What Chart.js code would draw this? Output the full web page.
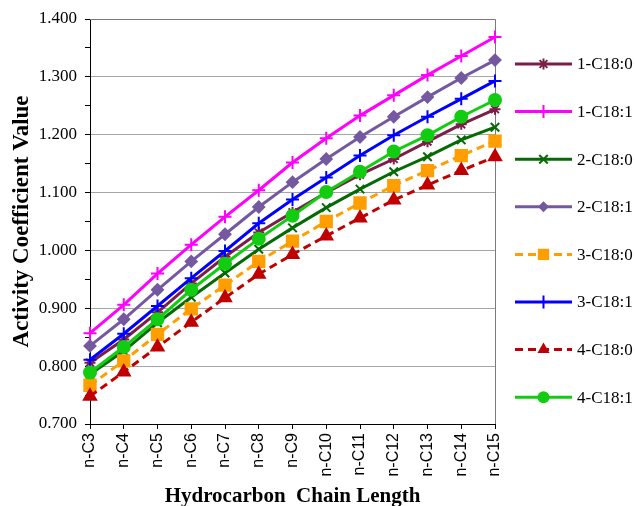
<!DOCTYPE html>
<html>
<head>
<meta charset="utf-8">
<script src="https://cdn.jsdelivr.net/npm/chart.js@4.4.1/dist/chart.umd.min.js"></script>
<style>
  html, body { margin: 0; padding: 0; background: #fff; }
  #wrap { width: 635px; height: 506px; }
</style>
</head>
<body>
<div id="wrap"><canvas id="grafico" width="635" height="506"></canvas></div>
<script>
const categorias = ['n-C3', 'n-C4', 'n-C5', 'n-C6', 'n-C7', 'n-C8', 'n-C9', 'n-C10', 'n-C11', 'n-C12', 'n-C13', 'n-C14', 'n-C15'];

const serie1C180 = [0.806, 0.846, 0.893, 0.943, 0.989, 1.031, 1.066, 1.100, 1.131, 1.158, 1.188, 1.218, 1.244];
const serie1C181 = [0.857, 0.906, 0.960, 1.010, 1.058, 1.104, 1.152, 1.194, 1.233, 1.268, 1.303, 1.336, 1.369];
const serie2C180 = [0.786, 0.826, 0.875, 0.919, 0.961, 1.002, 1.039, 1.074, 1.106, 1.136, 1.162, 1.191, 1.213];
const serie2C181 = [0.835, 0.881, 0.932, 0.981, 1.028, 1.075, 1.118, 1.158, 1.196, 1.231, 1.265, 1.298, 1.329];
const serie3C180 = [0.767, 0.809, 0.855, 0.899, 0.940, 0.981, 1.016, 1.050, 1.082, 1.112, 1.138, 1.164, 1.189];
const serie3C181 = [0.811, 0.856, 0.904, 0.952, 0.999, 1.047, 1.088, 1.126, 1.164, 1.199, 1.231, 1.262, 1.293];
const serie4C180 = [0.748, 0.790, 0.833, 0.876, 0.918, 0.959, 0.993, 1.025, 1.056, 1.087, 1.113, 1.138, 1.162];
const serie4C181 = [0.789, 0.833, 0.881, 0.932, 0.977, 1.020, 1.060, 1.101, 1.136, 1.171, 1.199, 1.231, 1.260];

const nomesSeries = ['1-C18:0', '1-C18:1', '2-C18:0', '2-C18:1', '3-C18:0', '3-C18:1', '4-C18:0', '4-C18:1'];
const yMin = 0.7;
const yMax = 1.4;
const yPasso = 0.05;

// estilo de cada serie: cor, marcador, tamanho, tracejado
const estilos = [
    { cor: '#7B1E48', ponto: 'star', raio: 5.5, traco: [] },
    { cor: '#FF00FF', ponto: 'cross', raio: 6.5, traco: [] },
    { cor: '#046A04', ponto: 'crossRot', raio: 6, traco: [] },
    { cor: '#7559A0', ponto: 'rectRot', raio: 5.5, traco: [] },
    { cor: '#FF9E00', ponto: 'rect', raio: 8, traco: [8, 5] },
    { cor: '#0000FF', ponto: 'cross', raio: 6.5, traco: [] },
    { cor: '#C00000', ponto: 'triangle', raio: 7, traco: [8, 5] },
    { cor: '#12CC12', ponto: 'circle', raio: 6, traco: [] }
];

const valores = [serie1C180, serie1C181, serie2C180, serie2C181, serie3C180, serie3C181, serie4C180, serie4C181];

const datasets = valores.map((v, i) => ({
    label: nomesSeries[i],
    data: v,
    borderColor: estilos[i].cor,
    backgroundColor: estilos[i].cor,
    borderWidth: 3,
    borderDash: estilos[i].traco,
    pointStyle: estilos[i].ponto,
    pointRadius: estilos[i].raio,
    pointBorderWidth: 2,
    pointBorderColor: estilos[i].cor,
    pointBackgroundColor: estilos[i].cor,
    tension: 0,
    fill: false,
    order: valores.length - i
}));

function desenharMarcador(ctx, tipo, x, y, r, cor) {
    ctx.save();
    ctx.strokeStyle = cor;
    ctx.fillStyle = cor;
    ctx.lineWidth = 2;
    ctx.setLineDash([]);
    ctx.beginPath();
    if (tipo === 'circle') {
        ctx.arc(x, y, r, 0, Math.PI * 2);
        ctx.fill();
    } else if (tipo === 'rect') {
        const s = r * Math.SQRT1_2;
        ctx.rect(x - s, y - s, 2 * s, 2 * s);
        ctx.fill();
    } else if (tipo === 'rectRot') {
        ctx.moveTo(x, y - r);
        ctx.lineTo(x + r, y);
        ctx.lineTo(x, y + r);
        ctx.lineTo(x - r, y);
        ctx.closePath();
        ctx.fill();
    } else if (tipo === 'triangle') {
        ctx.moveTo(x, y - r);
        ctx.lineTo(x + r * 0.866, y + r * 0.5);
        ctx.lineTo(x - r * 0.866, y + r * 0.5);
        ctx.closePath();
        ctx.fill();
    } else {
        const d = r * Math.SQRT1_2;
        if (tipo === 'cross' || tipo === 'star') {
            ctx.moveTo(x, y - r); ctx.lineTo(x, y + r);
            ctx.moveTo(x - r, y); ctx.lineTo(x + r, y);
        }
        if (tipo === 'crossRot' || tipo === 'star') {
            ctx.moveTo(x - d, y - d); ctx.lineTo(x + d, y + d);
            ctx.moveTo(x + d, y - d); ctx.lineTo(x - d, y + d);
        }
        ctx.stroke();
    }
    ctx.restore();
}

const bordaPlot = {
    id: 'bordaPlot',
    beforeDatasetsDraw(chart) {
        const { ctx, chartArea } = chart;
        ctx.save();
        ctx.strokeStyle = '#7a7a7a';
        ctx.lineWidth = 1;
        ctx.beginPath();
        ctx.moveTo(chartArea.left, chartArea.top + 0.5);
        ctx.lineTo(chartArea.right + 0.5, chartArea.top + 0.5);
        ctx.lineTo(chartArea.right + 0.5, chartArea.bottom);
        ctx.stroke();
        ctx.restore();
    }
};

const legendaLateral = {
    id: 'legendaLateral',
    afterDraw(chart) {
        const ctx = chart.ctx;
        const x0 = 515, x1 = 572;
        chart.data.datasets.forEach((ds, i) => {
            const y = 64 + i * 47.6;
            const est = estilos[i];
            ctx.save();
            ctx.strokeStyle = est.cor;
            ctx.lineWidth = 3;
            ctx.setLineDash(est.traco);
            ctx.beginPath();
            ctx.moveTo(x0, y);
            ctx.lineTo(x1, y);
            ctx.stroke();
            ctx.restore();
            desenharMarcador(ctx, est.ponto, (x0 + x1) / 2, y, est.raio, est.cor);
            ctx.save();
            ctx.fillStyle = '#000';
            ctx.font = '17px "Liberation Serif"';
            ctx.textBaseline = 'middle';
            ctx.fillText(ds.label, 577, y + 1);
            ctx.restore();
        });
    }
};

new Chart(document.getElementById('grafico'), {
    type: 'line',
    data: { labels: categorias, datasets: datasets },
    options: {
        responsive: false,
        animation: false,
        layout: { padding: { top: 19, right: 140, left: 0, bottom: 0 } },
        plugins: {
            legend: { display: false },
            tooltip: { enabled: false }
        },
        scales: {
            x: {
                offset: false,
                afterFit: (scale) => { scale.height = 82; },
                grid: { drawOnChartArea: false, color: '#000', tickLength: 5 },
                border: { color: '#000', width: 1 },
                ticks: {
                    minRotation: 90,
                    maxRotation: 90,
                    padding: 4,
                    color: '#000',
                    font: { family: '"Liberation Sans"', size: 16 }
                },
                title: {
                    display: true,
                    text: 'Hydrocarbon  Chain Length',
                    color: '#000',
                    font: { family: '"Liberation Serif"', size: 21, weight: 'bold' },
                    padding: { top: 0, bottom: -3 }
                }
            },
            y: {
                min: yMin,
                max: yMax,
                afterFit: (scale) => { scale.width = 90; },
                grid: {
                    color: (c) => (c.index % 2 === 1 ? 'rgba(0,0,0,0)' : '#a6a6a6'),
                    tickColor: '#000',
                    tickLength: 5
                },
                border: { color: '#000', width: 1 },
                ticks: {
                    stepSize: yPasso,
                    padding: 8,
                    color: '#000',
                    font: { family: '"Liberation Serif"', size: 17 },
                    callback: (v, idx) => (idx % 2 === 1 ? '' : Number(v).toFixed(3))
                },
                title: {
                    display: true,
                    text: 'Activity Coefficient Value',
                    color: '#000',
                    font: { family: '"Liberation Serif"', size: 23, weight: 'bold' },
                    padding: { top: 8, bottom: 0 }
                }
            }
        }
    },
    plugins: [bordaPlot, legendaLateral]
});
</script>
</body>
</html>
